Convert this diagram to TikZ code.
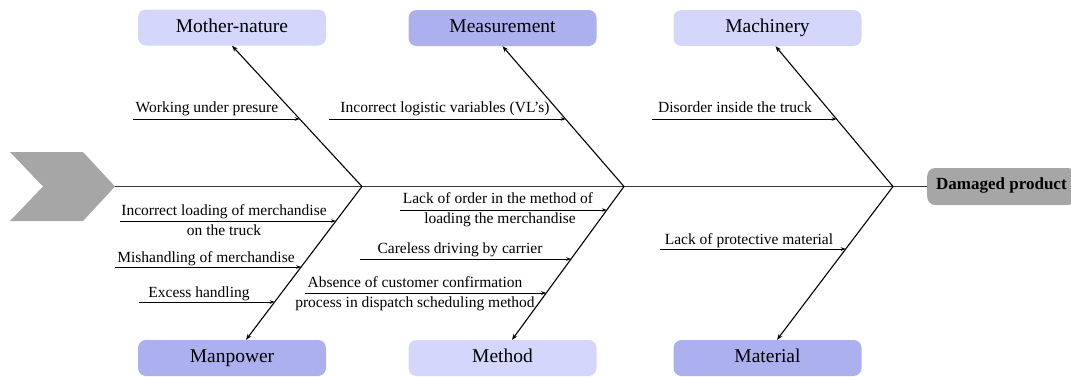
\documentclass[tikz,border=0pt]{standalone}
\usepackage{fontspec}
\setmainfont{Liberation Serif}
\usetikzlibrary{arrows.meta,calc}

\definecolor{catlight}{RGB}{212,214,252}
\definecolor{catdark}{RGB}{172,176,238}
\definecolor{headgray}{RGB}{166,166,166}
\definecolor{spinegray}{RGB}{55,55,55}

\begin{document}
\begin{tikzpicture}[x=1pt,y=-1pt,
  cat/.style={rounded corners=8pt, minimum width=188pt, minimum height=36pt,
    inner sep=0pt, font=\fontsize{19.5}{22}\selectfont,
    text height=13.5pt, text depth=4pt},
  headbox/.style={rounded corners=8pt, fill=headgray, minimum height=37pt,
    inner xsep=9pt, inner ysep=0pt, font=\bfseries\fontsize{17}{20}\selectfont,
    text height=11.5pt, text depth=5pt},
  lbl/.style={anchor=base, inner sep=0pt, font=\fontsize{15.5}{18}\selectfont},
  spine/.style={draw=spinegray, line width=1.6pt},
  bone/.style={draw=black, line width=1.1pt, -{Stealth[length=6pt,width=4.5pt]}},
  sub/.style={draw=black, line width=0.9pt, -{Stealth[length=5pt,width=3.5pt]}}
]
\clip (0,0) rectangle (1071,376);

% tail chevron
\fill[headgray] (10,152) -- (83,152) -- (115,186.5) -- (83,221) -- (10,221) -- (43,186.5) -- cycle;
\coordinate (tail) at (115,186.5);

% effect box
\node[headbox, anchor=west] (head) at (927,186.5) {Damaged product};

% category boxes
\node[cat, fill=catlight] (mother) at (232,27.5) {Mother-nature};
\node[cat, fill=catdark]  (meas)   at (502.5,28) {Measurement};
\node[cat, fill=catlight] (mach)   at (767.5,28) {Machinery};
\node[cat, fill=catdark]  (manp)   at (232,358) {Manpower};
\node[cat, fill=catlight] (meth)   at (502.5,358) {Method};
\node[cat, fill=catdark]  (matl)   at (767.5,358) {Material};

% spine and junctions
\coordinate (j1) at (362,186.5);
\coordinate (j2) at (624,186.5);
\coordinate (j3) at (893,186.5);
\draw[spine] (tail) -- (head.west);

% bone ends on the category boxes
\coordinate (tMother) at (mother.south);
\coordinate (tMeas) at (meas.south);
\coordinate (tMach) at ($(mach.south)+(8,0)$);
\coordinate (tManp) at ($(manp.north)+(14,0)$);
\coordinate (tMeth) at ($(meth.north)+(9.5,0)$);
\coordinate (tMatl) at ($(matl.north)+(9.5,0)$);

\draw[bone] (j1) -- (tMother);
\draw[bone] (j2) -- (tMeas);
\draw[bone] (j3) -- (tMach);
\draw[bone] (j1) -- (tManp);
\draw[bone] (j2) -- (tMeth);
\draw[bone] (j3) -- (tMatl);

% sub-cause arrows: start points and end points on the bones
\coordinate (s1) at (133,119);  \coordinate (e1) at ($(j1)!0.479!(tMother)$);
\coordinate (s2) at (329,119);  \coordinate (e2) at ($(j2)!0.480!(tMeas)$);
\coordinate (s3) at (652,119);  \coordinate (e3) at ($(j3)!0.480!(tMach)$);
\coordinate (s4) at (120,221);  \coordinate (e4) at ($(j1)!0.225!(tManp)$);
\coordinate (s5) at (115,267);  \coordinate (e5) at ($(j1)!0.524!(tManp)$);
\coordinate (s6) at (139,302);  \coordinate (e6) at ($(j1)!0.752!(tManp)$);
\coordinate (s7) at (400,210);  \coordinate (e7) at ($(j2)!0.153!(tMeth)$);
\coordinate (s8) at (360,259);  \coordinate (e8) at ($(j2)!0.472!(tMeth)$);
\coordinate (s9) at (305,293);  \coordinate (e9) at ($(j2)!0.694!(tMeth)$);
\coordinate (s10) at (660,249); \coordinate (e10) at ($(j3)!0.407!(tMatl)$);

\foreach \i in {1,...,10} {
  \draw[sub] (s\i) -- (s\i -| e\i);
}

% sub-cause labels
\node[lbl] (l1) at (207,112) {Working under presure};
\node[lbl] (l2) at (445,112) {Incorrect logistic variables (VL's)};
\node[lbl] (l3) at (735,112) {Disorder inside the truck};
\node[lbl] (l4a) at (224,215) {Incorrect loading of merchandise};
\node[lbl] (l4b) at (224,235) {on the truck};
\node[lbl] (l5) at (206,262) {Mishandling of merchandise};
\node[lbl] (l6) at (199,297) {Excess handling};
\node[lbl] (l7a) at (498,203) {Lack of order in the method of};
\node[lbl] (l7b) at (500,223) {loading the merchandise};
\node[lbl] (l8) at (460,253) {Careless driving by carrier};
\node[lbl] (l9a) at (415,287) {Absence of customer confirmation};
\node[lbl] (l9b) at (415,307) {process in dispatch scheduling method};
\node[lbl] (l10) at (749,244) {Lack of protective material};
\end{tikzpicture}
\end{document}
